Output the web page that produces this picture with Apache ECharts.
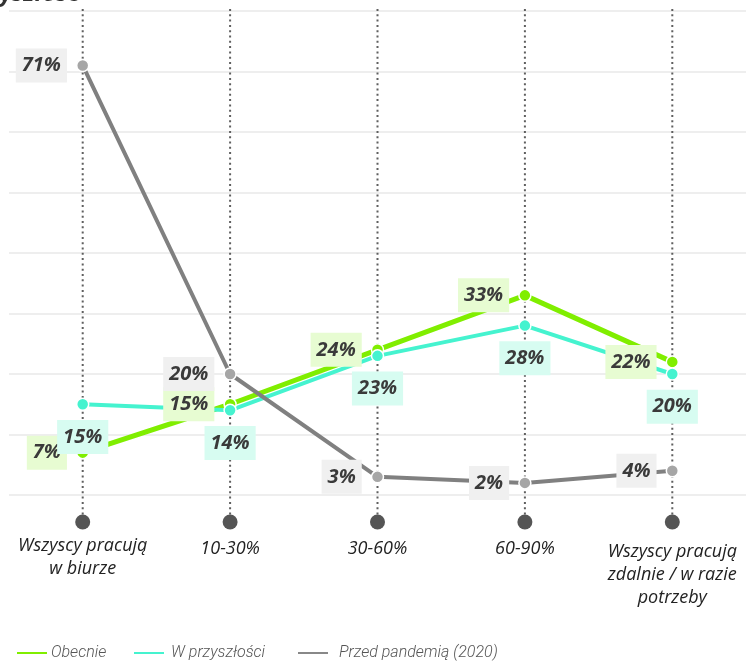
<!DOCTYPE html>
<html>
<head>
<meta charset="utf-8">
<script src="https://cdn.jsdelivr.net/npm/echarts@6/dist/echarts.min.js"></script>
<style>
  html, body { margin: 0; padding: 0; background: #ffffff; }
  #chart { width: 746px; height: 663px; }
</style>
</head>
<body>
<div id="chart"></div>
<script>
// Work model categories (share of time in the office)
const categories = [
  'Wszyscy pracują\nw biurze',
  '10-30%',
  '30-60%',
  '60-90%',
  'Wszyscy pracują\nzdalnie / w razie\npotrzeby'
];

// Share of respondents, in percent
const currentValues = [7, 15, 24, 33, 22];      // Obecnie
const futureValues = [15, 14, 23, 28, 20];      // W przyszłości
const prePandemicValues = [71, 20, 3, 2, 4];    // Przed pandemią (2020)

const seriesNames = ['Obecnie', 'W przyszłości', 'Przed pandemią (2020)'];

const yMin = 0;
const yMax = 80;
const yStep = 10;

const FONT = "'Open Sans', 'Noto Sans', sans-serif";
const LEGEND_FONT = "Roboto, 'Open Sans', sans-serif";

const chart = echarts.init(document.getElementById('chart'), null, { renderer: 'canvas' });

function valueLabel(position, bg) {
  return {
    show: true,
    position: position,
    distance: 9,
    formatter: '{c}%',
    fontFamily: FONT,
    fontStyle: 'italic',
    fontWeight: 'bold',
    fontSize: 20,
    lineHeight: 24,
    color: '#3a3a3a',
    backgroundColor: bg,
    padding: [5, 6, 5, 6]
  };
}

function legendAt(left, name, color, textGap) {
  return {
    left: left,
    top: 645,
    padding: 0,
    icon: 'rect',
    itemWidth: 32,
    itemHeight: 4,
    itemGap: 0,
    selectedMode: false,
    data: [{ name: name, itemStyle: { color: color } }],
    textStyle: {
      fontFamily: LEGEND_FONT,
      fontStyle: 'italic',
      fontWeight: 300,
      fontSize: 16,
      color: '#555555',
      padding: [0, 0, 0, textGap - 5]
    }
  };
}

// slight vertical nudges for multi-line category labels
function categoryItem(name) {
  const lines = name.split('\n').length;
  const shift = lines === 2 ? -3 : lines === 3 ? 3 : 0;
  return {
    value: name,
    textStyle: { padding: [shift, 0, 0, 0] }
  };
}

const option = {
  backgroundColor: '#ffffff',
  animation: false,
  title: {
    text: 'Przyszłość',
    left: -36,
    top: -18,
    padding: 0,
    textStyle: {
      fontFamily: FONT,
      fontStyle: 'italic',
      fontWeight: 'bold',
      fontSize: 24,
      color: '#333333'
    }
  },
  legend: [
    legendAt(15, seriesNames[0], '#80ee00', 3),
    legendAt(132, seriesNames[1], '#45f3cf', 6),
    legendAt(296, seriesNames[2], '#888888', 10)
  ],
  grid: {
    left: 9,
    right: 0,
    top: 11,
    bottom: 168
  },
  xAxis: {
    type: 'category',
    data: categories.map(categoryItem),
    boundaryGap: true,
    axisLine: { show: false },
    axisTick: { show: false },
    splitLine: { show: false },
    axisLabel: {
      margin: 42,
      interval: 0,
      verticalAlign: 'top',
      fontFamily: FONT,
      fontStyle: 'italic',
      fontSize: 18,
      lineHeight: 23,
      color: '#222222'
    }
  },
  yAxis: {
    type: 'value',
    min: yMin,
    max: yMax,
    interval: yStep,
    axisLine: { show: false },
    axisTick: { show: false },
    axisLabel: { show: false },
    splitLine: { lineStyle: { color: '#eeeeee', width: 2 } }
  },
  series: [
    {
      // dotted guide line and end dot under each category
      type: 'custom',
      z: 1,
      clip: false,
      silent: true,
      data: categories.map((c, i) => [i]),
      renderItem: function (params, api) {
        const i = api.value(0);
        const top = api.coord([i, yMax]);
        const base = api.coord([i, yMin]);
        const dotY = base[1] + 27;
        return {
          type: 'group',
          children: [
            {
              type: 'line',
              shape: { x1: top[0], y1: top[1] - 2, x2: top[0], y2: dotY },
              style: { stroke: '#5f5f5f', lineWidth: 2, lineDash: [2, 3.3] }
            },
            {
              type: 'circle',
              shape: { cx: base[0], cy: dotY, r: 7.5 },
              style: { fill: '#555555' }
            }
          ]
        };
      }
    },
    {
      name: seriesNames[0],
      type: 'line',
      data: currentValues,
      z: 2,
      symbol: 'circle',
      symbolSize: 12,
      lineStyle: { color: '#80ee00', width: 5 },
      itemStyle: { color: '#80ee00', borderColor: '#ffffff', borderWidth: 1.5 },
      label: valueLabel('left', '#e7fcd2')
    },
    {
      name: seriesNames[1],
      type: 'line',
      data: futureValues,
      z: 2,
      symbol: 'circle',
      symbolSize: 12,
      lineStyle: { color: '#45f3cf', width: 4 },
      itemStyle: { color: '#45f3cf', borderColor: '#ffffff', borderWidth: 1.5 },
      label: valueLabel('bottom', '#d7fcf1')
    },
    {
      name: seriesNames[2],
      type: 'line',
      data: prePandemicValues,
      z: 2,
      symbol: 'circle',
      symbolSize: 12,
      lineStyle: { color: '#808080', width: 4 },
      itemStyle: { color: '#a6a6a6', borderColor: '#ffffff', borderWidth: 1.5 },
      label: valueLabel('left', '#f0f0f0')
    }
  ]
};

chart.setOption(option);
</script>
</body>
</html>
